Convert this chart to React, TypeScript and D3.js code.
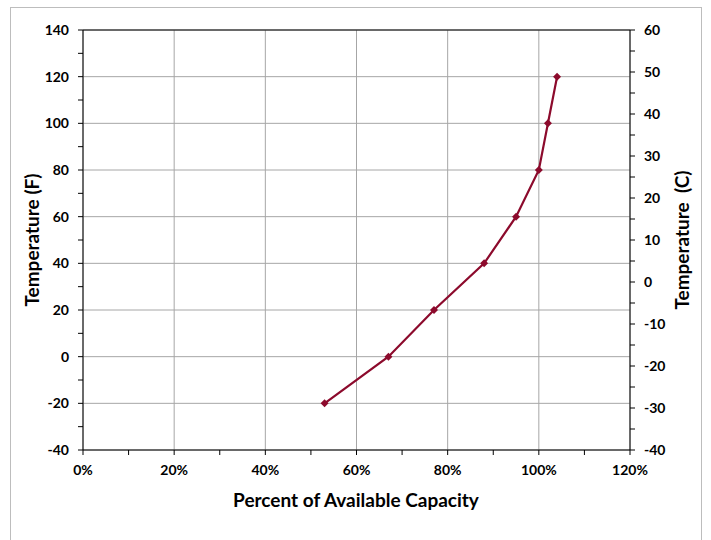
import * as d3 from "d3";
import React from "react";

// percent of available capacity vs temperature (F)
const capacity = [53, 67, 77, 88, 95, 100, 102, 104];
const tempF = [-20, 0, 20, 40, 60, 80, 100, 120];

const xTicks = [0, 20, 40, 60, 80, 100, 120];
const fTicks = [-40, -20, 0, 20, 40, 60, 80, 100, 120, 140];
const cTicks = [-40, -30, -20, -10, 0, 10, 20, 30, 40, 50, 60];

const W = 711;
const H = 540;
const margin = { top: 30, right: 81, bottom: 90, left: 83 };
const font = "Lato, 'Open Sans', sans-serif";
const lineColor = "#8c0a2c";

export default function App() {
  const iw = W - margin.left - margin.right;
  const ih = H - margin.top - margin.bottom;

  const x = d3.scaleLinear().domain([0, 120]).range([0, iw]);
  const yF = d3.scaleLinear().domain([-40, 140]).range([ih, 0]);
  const yC = d3.scaleLinear().domain([-40, 60]).range([ih, 0]);

  const pts = capacity.map((c, i) => [x(c), yF(tempF[i])] as [number, number]);
  const line = d3.line()(pts) || "";

  const xMinor = d3.range(0, 121, 10);
  const fMinor = d3.range(-40, 141, 10);
  const cMinor = d3.range(-40, 61, 5);

  return (
    <svg
      width={W}
      height={H}
      style={{ position: "absolute", left: 0, top: 0, background: "#fff" }}
      fontFamily={font}
    >
      <rect x={10.5} y={7.5} width={691} height={560} fill="#fff" stroke="#bdbdbd" />
      <g transform={`translate(${margin.left},${margin.top})`}>
        {/* gridlines */}
        {fTicks.map((t) => (
          <line key={`hg${t}`} x1={0} x2={iw} y1={yF(t)} y2={yF(t)} stroke="#a6a6a6" />
        ))}
        {xTicks.map((t) => (
          <line key={`vg${t}`} x1={x(t)} x2={x(t)} y1={0} y2={ih} stroke="#a6a6a6" />
        ))}
        <line x1={0} x2={iw} y1={0} y2={0} stroke="#000" />

        {/* left axis */}
        <line x1={0} x2={0} y1={0} y2={ih} stroke="#000" />
        {fMinor.map((t) => (
          <line key={`lt${t}`} x1={-5} x2={0} y1={yF(t)} y2={yF(t)} stroke="#000" />
        ))}
        {fTicks.map((t) => (
          <text key={`ll${t}`} x={-14} y={yF(t)} dy="0.35em" textAnchor="end" fontSize={14} fontWeight="bold">
            {t}
          </text>
        ))}

        {/* right axis */}
        <line x1={iw} x2={iw} y1={0} y2={ih} stroke="#000" />
        {cMinor.map((t) => (
          <line key={`rt${t}`} x1={iw} x2={iw + 5} y1={yC(t)} y2={yC(t)} stroke="#000" />
        ))}
        {cTicks.map((t) => (
          <text key={`rl${t}`} x={iw + 14} y={yC(t)} dy="0.35em" textAnchor="start" fontSize={14} fontWeight="bold">
            {t}
          </text>
        ))}

        {/* bottom axis */}
        <line x1={0} x2={iw} y1={ih} y2={ih} stroke="#000" />
        {xMinor.map((t) => (
          <line key={`bt${t}`} x1={x(t)} x2={x(t)} y1={ih} y2={ih + 5} stroke="#000" />
        ))}
        {xTicks.map((t) => (
          <text key={`bl${t}`} x={x(t)} y={ih + 25} textAnchor="middle" fontSize={14} fontWeight="bold">
            {`${t}%`}
          </text>
        ))}

        {/* series */}
        <path d={line} fill="none" stroke={lineColor} strokeWidth={2.2} />
        {pts.map(([px, py], i) => (
          <path
            key={`m${i}`}
            d={`M${px},${py - 4}L${px + 4},${py}L${px},${py + 4}L${px - 4},${py}Z`}
            fill={lineColor}
          />
        ))}
      </g>

      {/* titles */}
      <text x={356} y={507} textAnchor="middle" fontSize={19} fontWeight="bold">
        Percent of Available Capacity
      </text>
      <text
        transform={`translate(39,${margin.top + ih / 2}) rotate(-90)`}
        textAnchor="middle"
        fontSize={19}
        fontWeight="bold"
      >
        Temperature (F)
      </text>
      <text
        transform={`translate(689,${margin.top + ih / 2}) rotate(-90)`}
        textAnchor="middle"
        fontSize={19}
        fontWeight="bold"
        style={{ whiteSpace: "pre" }}
      >
        {"Temperature  (C)"}
      </text>
    </svg>
  );
}
